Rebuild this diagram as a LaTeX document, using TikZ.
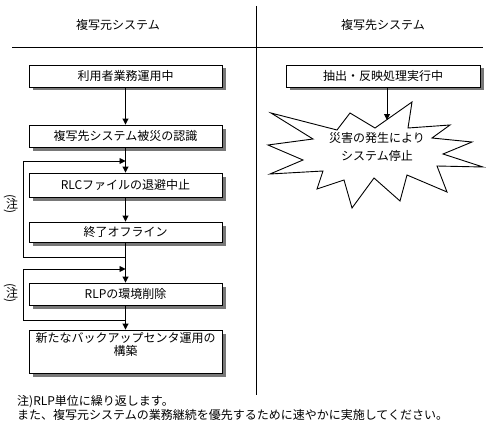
\documentclass[tikz,border=0pt]{standalone}
\usepackage{fontspec}
\setmainfont{Noto Sans CJK JP}
\usetikzlibrary{arrows.meta,shadows,positioning}
\definecolor{shadowgray}{RGB}{120,120,120}

\tikzset{
  boxtext/.style={font=\fontsize{12pt}{13pt}\selectfont},
  procbox/.style={boxtext,draw,line width=0.9pt,fill=white,minimum width=193pt,
    minimum height=22pt,inner sep=0pt,
    drop shadow={shadow xshift=3.5pt,shadow yshift=-3.5pt,fill=shadowgray,opacity=1}},
  flow/.style={->,line width=0.9pt},
  repeatnote/.style={font=\fontsize{12pt}{12pt}\selectfont,rotate=-90,inner sep=0pt},
}

\begin{document}
\begin{tikzpicture}[x=1pt,y=-1pt,>={Triangle[length=6pt,width=6pt]}]
\useasboundingbox (0,0) rectangle (486,425);

%% ── headings and dividers ────────────────────────────────────────────────────
\node[boxtext] (srchead) at (118,25) {複写元システム};
\node[boxtext] (dsthead) at (383,25) {複写先システム};
\draw[line width=0.9pt] (12,47) -- (483,47);
\draw[line width=0.9pt] (256,6) -- (256,395);

%% ════════════════════════════════════════════════════════════════════════════
%%  LEFT — source system
%% ════════════════════════════════════════════════════════════════════════════
\node[procbox] (b1) at (125.5,76) {利用者業務運用中};
\node[procbox] (b2) at (125.5,136) {複写先システム被災の認識};
\node[procbox,minimum height=24pt] (b3) at (125.5,185) {RLCファイルの退避中止};
\node[procbox,minimum height=20pt] (b4) at (125.5,232) {終了オフライン};
\node[procbox] (b5) at (125.5,294) {RLPの環境削除};
\node[procbox,minimum height=43pt] (b6) at (125.5,351.5) {};
\node[boxtext,align=center,anchor=north,inner sep=0pt,yshift=-3pt] (b6text)
  at (b6.north) {新たなバックアップセンタ運用の\\構築};

%% main flow
\draw[flow] (b1) -- (b2);
\draw[flow] (b2) -- (b3);
\draw[flow] (b3) -- (b4);
\draw[flow] (b4) -- (b5);
\draw[flow] (b5) -- (b6);

%% repeat loops
\coordinate (loopAin)  at (125.5,161);
\coordinate (loopAout) at (125.5,257);
\coordinate (loopBin)  at (125.5,269);
\coordinate (loopBout) at (125.5,320);
\draw[flow] (loopAout) -- (23,257) |- (loopAin);
\draw[flow] (loopBout) -- (23,320) |- (loopBin);

\node[repeatnote] (noteA) at (11,204) {(\rotatebox{90}{注})};
\node[repeatnote] (noteB) at (11,293) {(\rotatebox{90}{注})};

%% ════════════════════════════════════════════════════════════════════════════
%%  RIGHT — target system
%% ════════════════════════════════════════════════════════════════════════════
\node[procbox,minimum width=194pt] (b7) at (383,76) {抽出・反映処理実行中};

%% burst
\draw[line width=0.9pt,fill=white]
  (271,113) -- (337,130) -- (350,113) -- (375,128) -- (412,102) -- (408,128)
  -- (450,125) -- (432,138) -- (472,142) -- (443,154) -- (483,167) -- (437,166)
  -- (447,192) -- (407,175) -- (400,201) -- (374,178) -- (352,208) -- (344,180)
  -- (317,189) -- (323,171) -- (270,174) -- (303,160) -- (268,145) -- (313,139)
  -- cycle;
\node[font=\fontsize{12pt}{18pt}\selectfont,align=center] (disaster) at (377,147)
  {災害の発生により\\システム停止};

\coordinate (hit) at (387,120);
\draw[flow] (b7.south -| hit) -- (hit);

%% ── footnote ─────────────────────────────────────────────────────────────────
\node[boxtext,anchor=west,inner sep=0pt] (foot1) at (17,402) {注)RLP単位に繰り返します。};
\node[boxtext,anchor=west,inner sep=0pt] (foot2) at (17,415)
  {また、複写元システムの業務継続を優先するために速やかに実施してください。};

\end{tikzpicture}
\end{document}
